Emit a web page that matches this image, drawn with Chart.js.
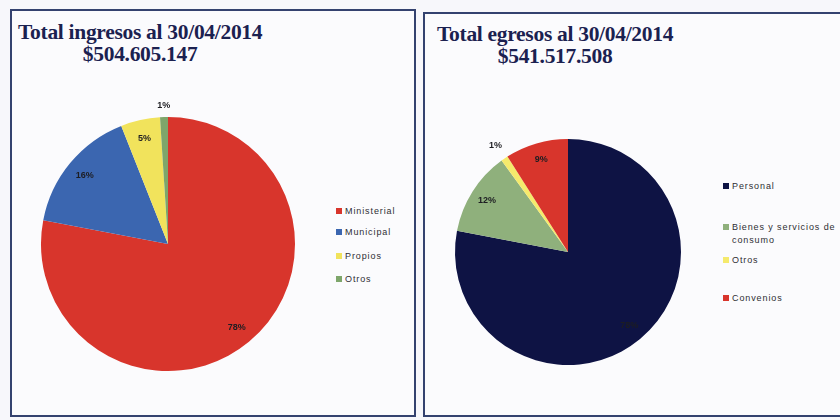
<!DOCTYPE html>
<html>
<head>
<meta charset="utf-8">
<script src="https://cdn.jsdelivr.net/npm/chart.js@4"></script>
<style>
  html,body{margin:0;padding:0;}
  body{width:840px;height:420px;background:#f7f7fb;position:relative;overflow:hidden;font-family:"Liberation Sans",Arial,sans-serif;}
  .box{position:absolute;box-sizing:border-box;border:2px solid #34426f;background:#fbfbfd;}
  .title{position:absolute;font-family:"Liberation Serif","DejaVu Serif",serif;font-weight:bold;color:#1b2150;font-size:21.5px;line-height:22px;text-align:center;letter-spacing:-0.3px;white-space:nowrap;}
  .chartwrap{position:absolute;}
  .leg{position:absolute;font-size:9px;color:#2e2e33;letter-spacing:0.9px;line-height:13px;white-space:nowrap;}
  .leg i{position:absolute;left:-9px;top:3px;width:6px;height:6px;display:block;}
</style>
</head>
<body>
<div class="box" style="left:10px;top:9px;width:406px;height:408px;"></div>
<div class="box" style="left:423px;top:12px;width:440px;height:405px;"></div>
<div class="title" id="t1" style="left:18px;top:21px;"></div>
<div class="title" id="t2" style="left:437px;top:23px;"></div>
<div class="chartwrap" style="left:12px;top:60px;width:312px;height:355px;"><canvas id="c1" width="312" height="355"></canvas></div>
<div class="chartwrap" style="left:425px;top:60px;width:290px;height:355px;"><canvas id="c2" width="290" height="355"></canvas></div>
<div id="legends"></div>
<script>
// ---- data ----
const ingresosTitle = ["Total ingresos al 30/04/2014", "$504.605.147"];
const ingresosLabels = ["Ministerial", "Municipal", "Propios", "Otros"];
const ingresosValues = [78, 16, 5, 1];

const egresosTitle = ["Total egresos al 30/04/2014", "$541.517.508"];
const egresosLabels = ["Personal", "Bienes y servicios de consumo", "Otros", "Convenios"];
const egresosValues = [78, 12, 1, 9];

// ---- styles ----
const ingresosColors = ["#d8352c", "#3b66b0", "#f1e35c", "#7ea66b"];
const egresosColors = ["#0e1344", "#8fb07c", "#f5ea6c", "#d8352c"];

document.getElementById('t1').innerHTML = ingresosTitle.join('<br>');
document.getElementById('t2').innerHTML = egresosTitle.join('<br>');

const pctLabels = {
  id: 'pctLabels',
  afterDatasetsDraw(chart, args, opts) {
    const ctx = chart.ctx;
    const meta = chart.getDatasetMeta(0);
    const vals = chart.data.datasets[0].data;
    ctx.save();
    ctx.font = 'bold 9px "Liberation Sans", Arial, sans-serif';
    ctx.textAlign = 'center';
    ctx.textBaseline = 'middle';
    meta.data.forEach((arc, i) => {
      const p = arc.getProps(['x','y','startAngle','endAngle','outerRadius'], true);
      const mid = (p.startAngle + p.endAngle) / 2;
      const f = vals[i] < 2 ? opts.outside : opts.inside;
      const x = p.x + Math.cos(mid) * p.outerRadius * f;
      const y = p.y + Math.sin(mid) * p.outerRadius * f;
      ctx.fillStyle = '#1d1d22';
      ctx.fillText(vals[i] + '%', x, y);
    });
    ctx.restore();
  }
};

function makePie(id, labels, values, colors, padding, outside) {
  return new Chart(document.getElementById(id), {
    type: 'pie',
    data: { labels: labels, datasets: [{ data: values, backgroundColor: colors, borderWidth: 0 }] },
    options: {
      responsive: false,
      animation: false,
      layout: { padding: padding },
      plugins: {
        legend: { display: false },
        tooltip: { enabled: false },
        pctLabels: { inside: 0.85, outside: outside }
      }
    },
    plugins: [pctLabels]
  });
}

makePie('c1', ingresosLabels, ingresosValues, ingresosColors, {left:29, right:29, top:57, bottom:44}, 1.09);
makePie('c2', egresosLabels, egresosValues, egresosColors, {left:30, right:34, top:79, bottom:50}, 1.14);

// HTML legends built from the same arrays
function legend(labels, colors, x, ys, widths) {
  const root = document.getElementById('legends');
  labels.forEach((l, i) => {
    const d = document.createElement('div');
    d.className = 'leg';
    d.style.left = x + 'px';
    d.style.top = (ys[i] - 6) + 'px';
    if (widths && widths[i]) { d.style.whiteSpace = 'normal'; d.style.width = widths[i] + 'px'; }
    const m = document.createElement('i');
    m.style.background = colors[i];
    d.appendChild(m);
    d.appendChild(document.createTextNode(l));
    root.appendChild(d);
  });
}
legend(ingresosLabels, ingresosColors, 345, [211, 232, 256, 279]);
legend(egresosLabels, egresosColors, 732, [186, 227, 260, 298], [0, 110, 0, 0]);
</script>
</body>
</html>
